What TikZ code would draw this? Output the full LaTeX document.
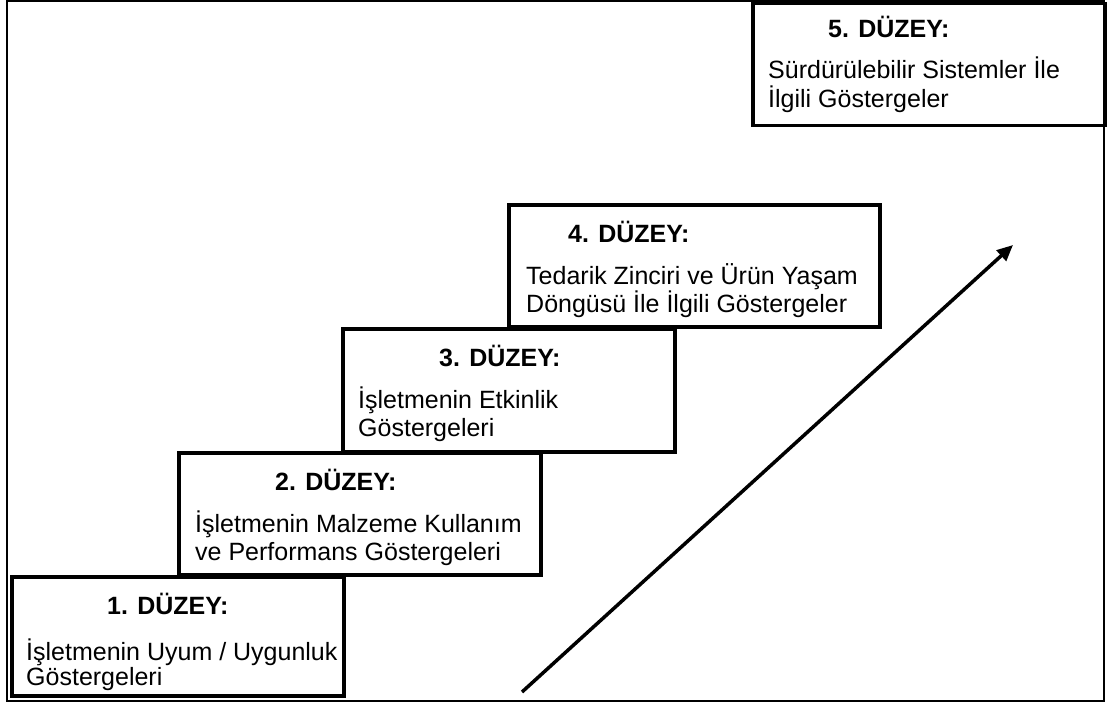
\documentclass[tikz,border=0pt]{standalone}
\usepackage{fontspec}
\setmainfont{Liberation Sans}
\usetikzlibrary{arrows.meta}
\begin{document}
\begin{tikzpicture}[x=1pt,y=-1pt,
  levelbox/.style={draw=black,line width=3.5pt,fill=white,inner sep=0pt,
    anchor=north west,rectangle},
  heading/.style={inner sep=0pt,anchor=base west,
    font=\fontsize{25}{28}\selectfont\bfseries},
  % two-line texts: the base anchor sits on the baseline of the last line
  bodytext/.style={inner sep=0pt,anchor=base west,align=left,
    font=\fontsize{25}{28}\selectfont},
  risearrow/.style={line width=3.5pt,-{Triangle[length=16pt,width=14pt]}}]
  \useasboundingbox (0,0) rectangle (1113,704);
  % outer frame
  \draw[line width=1.8pt] (7,1) rectangle (1104,701);

  % level boxes
  \node[levelbox,minimum width=332pt,minimum height=119pt] (b1) at (10,575) {};
  \node[levelbox,minimum width=362pt,minimum height=122pt] (b2) at (177,451) {};
  \node[levelbox,minimum width=332pt,minimum height=123pt] (b3) at (341,327) {};
  \node[levelbox,minimum width=371pt,minimum height=122pt] (b4) at (507,203) {};
  \node[levelbox,minimum width=352pt,minimum height=122pt] (b5) at (751,1.5) {};

  % level 1
  \node[heading] (h1) at (107,614) {1. DÜZEY:};
  \node[bodytext,font=\fontsize{25}{25}\selectfont] (t1) at (26,685)
    {İşletmenin Uyum / Uygunluk\\Göstergeleri};
  % level 2
  \node[heading] (h2) at (275,490) {2. DÜZEY:};
  \node[bodytext] (t2) at (195,560)
    {İşletmenin Malzeme Kullanım\\ve Performans Göstergeleri};
  % level 3
  \node[heading] (h3) at (439,366) {3. DÜZEY:};
  \node[bodytext] (t3) at (358,436)
    {İşletmenin Etkinlik\\Göstergeleri};
  % level 4
  \node[heading] (h4) at (568,242) {4. DÜZEY:};
  \node[bodytext] (t4) at (526,312)
    {Tedarik Zinciri ve Ürün Yaşam\\Döngüsü İle İlgili Göstergeler};
  % level 5
  \node[heading] (h5) at (828,37) {5. DÜZEY:};
  \node[bodytext,font=\fontsize{25}{29}\selectfont] (t5) at (768,107)
    {Sürdürülebilir Sistemler İle\\İlgili Göstergeler};

  % rising arrow
  \coordinate (tail) at (522,692);
  \coordinate (tip) at (1013,245);
  \draw[risearrow] (tail) -- (tip);
\end{tikzpicture}
\end{document}
